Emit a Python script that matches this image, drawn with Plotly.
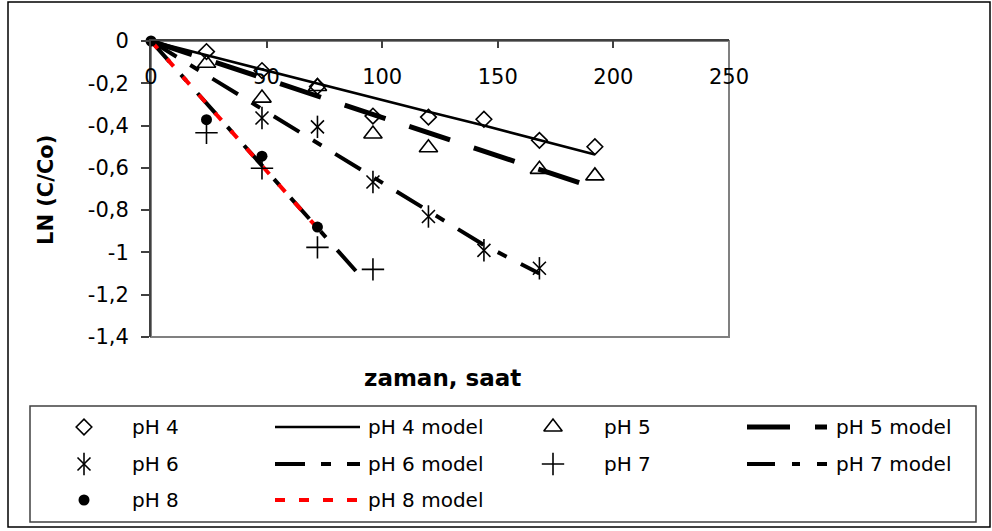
import plotly.graph_objects as go

# ---------------- data ----------------
time_all = [0, 24, 48, 72, 96, 120, 144, 168, 192]

ph4_t = [24, 48, 72, 96, 120, 144, 168, 192]
ph4_y = [-0.05, -0.14, -0.215, -0.355, -0.36, -0.37, -0.47, -0.50]

ph5_t = [24, 48, 72, 96, 120, 168, 192]
ph5_y = [-0.105, -0.27, -0.215, -0.44, -0.505, -0.607, -0.638]

ph6_t = [48, 72, 96, 120, 144, 168]
ph6_y = [-0.364, -0.406, -0.667, -0.83, -0.99, -1.075]

ph7_t = [24, 48, 72, 96]
ph7_y = [-0.434, -0.602, -0.976, -1.08]

ph8_t = [0, 24, 48, 72]
ph8_y = [0, -0.372, -0.545, -0.88]

m4_t = [0, 24, 48, 72, 96, 120, 144, 168, 192]
m4_y = [0, -0.067, -0.134, -0.20, -0.27, -0.335, -0.40, -0.47, -0.537]
m5_t = [0, 24, 48, 72, 96, 120, 144, 168, 192]
m5_y = [0, -0.087, -0.174, -0.26, -0.348, -0.435, -0.52, -0.61, -0.695]
m6_t = [0, 24, 48, 72, 96, 120, 144, 168]
m6_y = [0, -0.16, -0.32, -0.48, -0.645, -0.80, -0.965, -1.10]
m7_t = [0, 24, 48, 72, 91]
m7_y = [0, -0.295, -0.59, -0.885, -1.117]
m8_t = [0, 24, 48, 72]
m8_y = [0, -0.295, -0.595, -0.885]

x_tickvals = [0, 50, 100, 150, 200, 250]
x_ticktext = ["0", "50", "100", "150", "200", "250"]
y_tickvals = [0, -0.2, -0.4, -0.6, -0.8, -1.0, -1.2, -1.4]
y_ticktext = ["0", "-0,2", "-0,4", "-0,6", "-0,8", "-1", "-1,2", "-1,4"]

x_title = "zaman, saat"
y_title = "LN (C/Co)"
legend_labels = ["pH 4", "pH 4 model", "pH 5", "pH 5 model",
                 "pH 6", "pH 6 model", "pH 7", "pH 7 model",
                 "pH 8", "pH 8 model"]

# ---------------- styles ----------------
W, H = 992, 531
FONT = "DejaVu Sans"
BLACK = "#000000"
RED = "#ff0000"

style = {
    "m4": dict(color=BLACK, width=2.6),
    "m5": dict(color=BLACK, width=5, dash="43px,25px"),
    "m6": dict(color=BLACK, width=4, dash="30px,16px,10px,16px"),
    "m7": dict(color=BLACK, width=4, dash="28px,17px,8px,17px"),
    "m8": dict(color=RED, width=4, dash="10px,14px"),
}
mk_diamond = dict(symbol="diamond-open", size=12, color=BLACK, line=dict(color=BLACK, width=1.6))
mk_tri = dict(symbol="triangle-up-open", size=16, color=BLACK, line=dict(color=BLACK, width=1.6))
mk_starx = dict(symbol="x-thin-open", size=13, color=BLACK, line=dict(color=BLACK, width=1.6))
mk_starv = dict(symbol="line-ns-open", size=16, color=BLACK, line=dict(color=BLACK, width=1.6))
mk_plus = dict(symbol="cross-thin-open", size=16, color=BLACK, line=dict(color=BLACK, width=1.6))
mk_dot = dict(symbol="circle", size=11, color=BLACK, line=dict(width=0))

fig = go.Figure()

def line_tr(t, y, key, name):
    fig.add_trace(go.Scatter(x=t, y=y, mode="lines", line=style[key], name=name,
                             showlegend=False, hoverinfo="skip"))

def mark_tr(t, y, mk, name):
    fig.add_trace(go.Scatter(x=t, y=y, mode="markers", marker=mk, name=name,
                             showlegend=False, cliponaxis=False))

line_tr(m4_t, m4_y, "m4", legend_labels[1])
line_tr(m5_t, m5_y, "m5", legend_labels[3])
line_tr(m6_t, m6_y, "m6", legend_labels[5])
line_tr(m7_t, m7_y, "m7", legend_labels[7])
line_tr(m8_t, m8_y, "m8", legend_labels[9])

mark_tr(ph4_t, ph4_y, mk_diamond, legend_labels[0])
mark_tr(ph5_t, ph5_y, mk_tri, legend_labels[2])
mark_tr(ph6_t, ph6_y, mk_starx, legend_labels[4])
mark_tr(ph6_t, ph6_y, mk_starv, legend_labels[4])
mark_tr(ph7_t, ph7_y, mk_plus, legend_labels[6])
mark_tr(ph8_t, ph8_y, mk_dot, legend_labels[8])

# ---------------- hand-made legend (pixel helper axes) ----------------
rows = [427, 464, 500]
col_mark_x, col_mark_text = [84, 553], [130, 602]
col_line_x, col_line_text = [(275, 360), (747, 827)], [366, 834]

legend_items = [
    ("mark", 0, 0, [mk_diamond], 0),
    ("line", 0, 0, "m4", 1),
    ("mark", 1, 0, [mk_tri], 2),
    ("line", 1, 0, "m5", 3),
    ("mark", 0, 1, [mk_starx, mk_starv], 4),
    ("line", 0, 1, "m6", 5),
    ("mark", 1, 1, [mk_plus], 6),
    ("line", 1, 1, "m7", 7),
    ("mark", 0, 2, [mk_dot], 8),
    ("line", 0, 2, "m8", 9),
]
annotations = []
for kind, col, row, sty, li in legend_items:
    yy = rows[row]
    if kind == "mark":
        for mk in sty:
            fig.add_trace(go.Scatter(x=[col_mark_x[col]], y=[yy], mode="markers", marker=mk,
                                     xaxis="x2", yaxis="y2", showlegend=False,
                                     hoverinfo="skip", cliponaxis=False))
        tx = col_mark_text[col]
    else:
        x0, x1 = col_line_x[col]
        fig.add_trace(go.Scatter(x=[x0, x1], y=[yy, yy], mode="lines", line=style[sty],
                                 xaxis="x2", yaxis="y2", showlegend=False,
                                 hoverinfo="skip", cliponaxis=False))
        tx = col_line_text[col]
    annotations.append(dict(x=tx, y=yy, xref="x2", yref="y2", text=legend_labels[li],
                            showarrow=False, xanchor="left", yanchor="middle",
                            font=dict(family=FONT, size=20, color=BLACK)))

# axis titles
annotations.append(dict(x=46 / W, y=1 - 190 / H, xref="paper", yref="paper", text="<b>%s</b>" % y_title,
                        textangle=-90, showarrow=False, xanchor="center", yanchor="middle",
                        font=dict(family=FONT, size=21, color=BLACK)))
annotations.append(dict(x=442 / W, y=1 - 378 / H, xref="paper", yref="paper", text="<b>%s</b>" % x_title,
                        showarrow=False, xanchor="center", yanchor="middle",
                        font=dict(family=FONT, size=23, color=BLACK)))

shapes = [
    # outer chart border
    dict(type="rect", xref="paper", yref="paper", x0=8 / W, x1=990 / W, y0=1 - 527 / H, y1=1 - 2 / H,
         line=dict(color=BLACK, width=1.5), layer="below"),
    # legend box
    dict(type="rect", xref="paper", yref="paper", x0=30 / W, x1=976 / W, y0=1 - 522 / H, y1=1 - 406 / H,
         line=dict(color="#404040", width=1.5), layer="below"),
    # plot-area border
    dict(type="rect", xref="x domain", yref="y domain", x0=0, x1=1, y0=0, y1=1,
         line=dict(color="#808080", width=2), layer="below"),
]

fig.update_layout(
    width=W, height=H, autosize=False,
    margin=dict(l=0, r=0, t=0, b=0, pad=0, autoexpand=False),
    paper_bgcolor="white", plot_bgcolor="rgba(0,0,0,0)",
    font=dict(family=FONT, color=BLACK),
    showlegend=False,
    xaxis=dict(domain=[151 / W, 729 / W], range=[0, 250], side="top", anchor="y",
               automargin=False,
               showline=True, linecolor="#404040", linewidth=2,
               ticks="inside", ticklen=7, tickwidth=1.5, tickcolor="#404040",
               tickmode="array", tickvals=x_tickvals, ticktext=x_ticktext,
               ticklabelposition="inside", ticklabeloverflow="allow", ticklabelstandoff=23,
               tickfont=dict(family=FONT, size=21, color=BLACK),
               showgrid=False, zeroline=False, fixedrange=True),
    yaxis=dict(domain=[1 - 337 / H, 1 - 41 / H], range=[-1.4, 0], anchor="x",
               automargin=False,
               showline=True, linecolor="#404040", linewidth=2,
               ticks="outside", ticklen=8, tickwidth=1.5, tickcolor="#404040",
               tickmode="array", tickvals=y_tickvals, ticktext=y_ticktext,
               ticklabelstandoff=8,
               tickfont=dict(family=FONT, size=21, color=BLACK),
               showgrid=False, zeroline=False, fixedrange=True),
    xaxis2=dict(domain=[0, 1], range=[0, W], visible=False, anchor="y2", fixedrange=True,
                automargin=False),
    yaxis2=dict(domain=[0, 1], range=[H, 0], visible=False, anchor="x2", fixedrange=True,
                automargin=False),
    annotations=annotations,
    shapes=shapes,
)

fig.write_html("out.html", config={"displayModeBar": False},
               post_script="document.body.style.margin='0px';")
